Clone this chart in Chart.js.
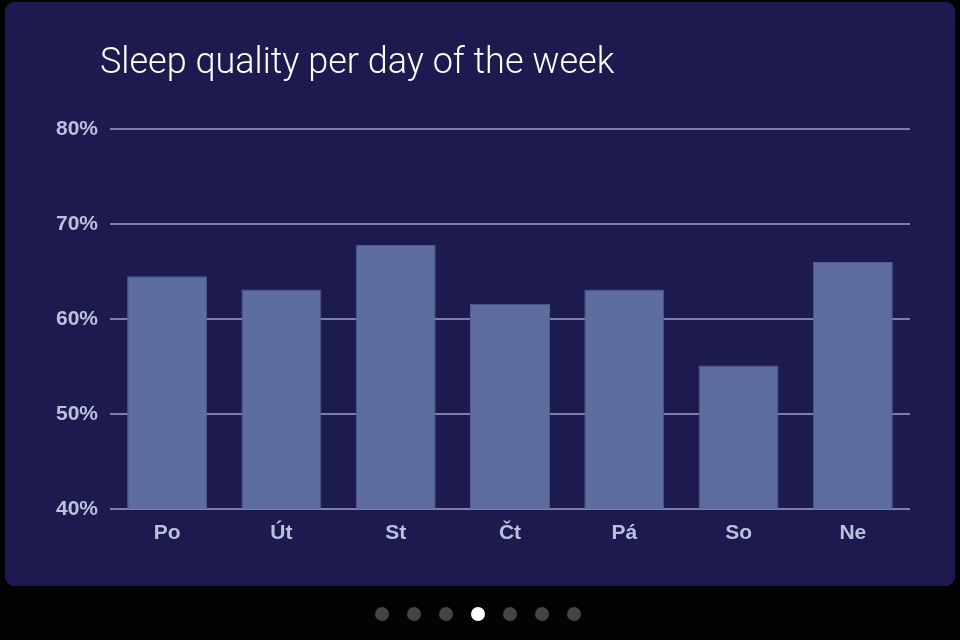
<!DOCTYPE html>
<html><head><meta charset="utf-8">
<script src="https://cdn.jsdelivr.net/npm/chart.js@4"></script>
<style>
html,body{margin:0;padding:0;background:#030303;width:960px;height:640px;overflow:hidden;}
#panel{position:absolute;left:5px;top:2px;width:950px;height:584px;background:#1d1a4f;border-radius:9px;overflow:hidden;}
#title{position:absolute;left:95px;top:38px;color:#ffffff;font-family:Roboto,"Liberation Sans",sans-serif;font-weight:300;font-size:36px;line-height:42px;white-space:nowrap;}
#c{position:absolute;left:0;top:0;}
#dots{position:absolute;left:0;top:607px;width:960px;height:14px;}
.dot{position:absolute;top:0;width:14px;height:14px;border-radius:50%;background:#444444;}
</style></head>
<body>
<div id="panel"><canvas id="c" width="950" height="584"></canvas><div id="title">Sleep quality per day of the week</div></div>
<div id="dots"></div>
<script>
const categories = ["Po","Út","St","Čt","Pá","So","Ne"];
const sleepQuality = [64.5, 63.1, 67.8, 61.6, 63.1, 55.1, 66.0];
const tickValues = [40, 50, 60, 70, 80];
const pageCount = 7;
const activePage = 3;

const dots = document.getElementById('dots');
for (let i = 0; i < pageCount; i++) {
  const d = document.createElement('div');
  d.className = 'dot';
  d.style.left = (375 + i * 32) + 'px';
  if (i === activePage) d.style.background = '#ffffff';
  dots.appendChild(d);
}

const tickFont = {family: '"Liberation Sans", Arial, sans-serif', size: 21, weight: 'bold'};
new Chart(document.getElementById('c'), {
  type: 'bar',
  data: {
    labels: categories,
    datasets: [{
      data: sleepQuality,
      backgroundColor: '#5d6d9d',
      borderColor: '#4f5c8e',
      borderWidth: 1,
      categoryPercentage: 0.7,
      barPercentage: 1.0
    }]
  },
  options: {
    responsive: false,
    animation: false,
    layout: {padding: {left: 0, right: 45, top: 127, bottom: 0}},
    plugins: {legend: {display: false}, tooltip: {enabled: false}, title: {display: false}},
    scales: {
      x: {
        grid: {display: false, drawTicks: false},
        border: {display: false},
        ticks: {color: '#b9c1dd', font: tickFont, padding: 12},
        afterFit: s => { s.height = 77; }
      },
      y: {
        min: 40, max: 80,
        afterBuildTicks: s => { s.ticks = tickValues.map(v => ({value: v})); },
        grid: {color: '#7a80a8', lineWidth: 2, drawTicks: false},
        border: {display: false},
        ticks: {color: '#b9c1dd', font: tickFont, padding: 12, callback: v => v + '%'},
        afterFit: s => { s.width = 105; }
      }
    }
  }
});
</script>
</body></html>
